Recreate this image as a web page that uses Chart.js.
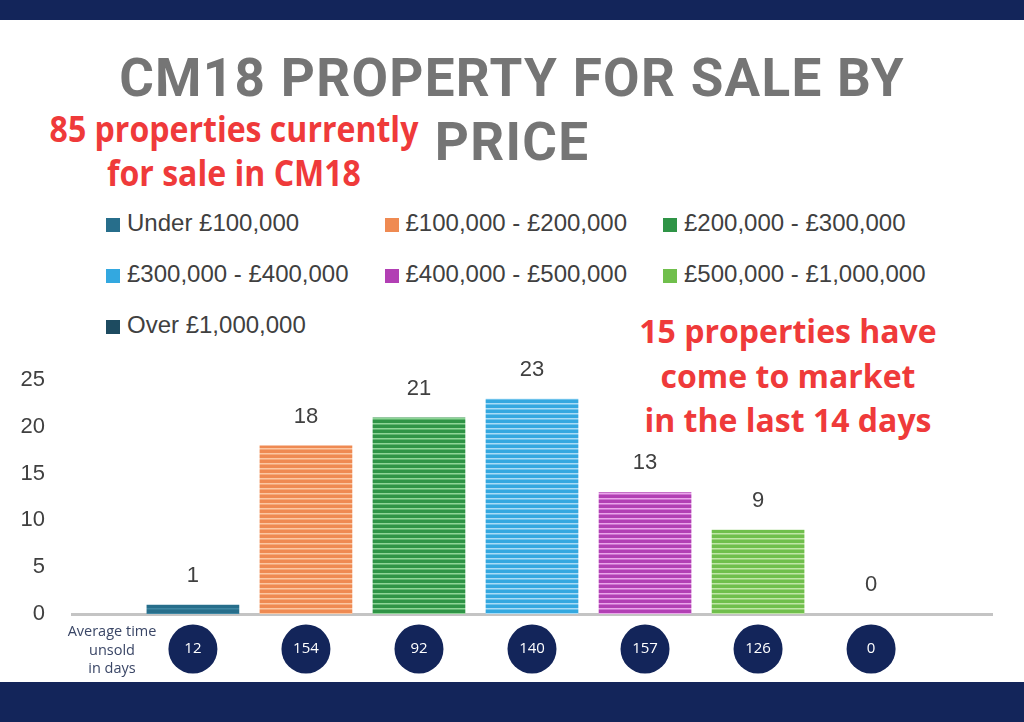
<!DOCTYPE html>
<html>
<head>
<meta charset="utf-8">
<script src="https://cdn.jsdelivr.net/npm/chart.js@4"></script>
<style>
  html, body { margin: 0; padding: 0; background: #fff; }
  #page { position: relative; width: 1024px; height: 722px; overflow: hidden; background: #fff; }
  .navy { position: absolute; left: 0; width: 1024px; background: #13255a; }
  #title { position: absolute; left: 0; top: 46px; width: 1024px; text-align: center;
    font-family: Roboto, sans-serif; font-weight: 700; font-size: 53px; line-height: 64px;
    letter-spacing: 1.3px; color: #757575; }
  .note { position: absolute; color: #ef3a3a; font-family: "Open Sans", sans-serif; font-weight: 700;
    text-align: center; white-space: nowrap; }
  #noteLeft { left: 14px; top: 107px; width: 440px; font-size: 36px; line-height: 44px; transform: scaleX(0.89); }
  #noteRight { left: 588px; top: 309px; width: 400px; font-size: 32px; line-height: 44.5px; }
  #legend { position: absolute; left: 106px; top: 208px; }
  .item { position: absolute; white-space: nowrap; font-family: "Liberation Sans", Arial, sans-serif;
    font-size: 24px; color: #404040; height: 30px; line-height: 30px; }
  .item span.box { display: inline-block; width: 14px; height: 14px; margin-right: 7px; vertical-align: -1px; }
  #chartBox { position: absolute; left: 0; top: 340px; width: 1024px; height: 342px; }
</style>
</head>
<body>
<div id="page">
  <div class="navy" style="top:0;height:20px"></div>
  <div id="title">CM18 PROPERTY FOR SALE BY<br>PRICE</div>
  <div class="note" id="noteLeft">85 properties currently<br>for sale in CM18</div>
  <div id="legend"></div>
  <div class="note" id="noteRight">15 properties have<br>come to market<br>in the last 14 days</div>
  <div id="chartBox"><canvas id="myChart"></canvas></div>
  <div class="navy" style="top:682px;height:40px"></div>
</div>
<script>
const bands = ["Under £100,000", "£100,000 - £200,000", "£200,000 - £300,000", "£300,000 - £400,000",
  "£400,000 - £500,000", "£500,000 - £1,000,000", "Over £1,000,000"];
const counts = [1, 18, 21, 23, 13, 9, 0];
const daysUnsold = [12, 154, 92, 140, 157, 126, 0];
const yTicks = [0, 5, 10, 15, 20, 25];

const baseColors = ["#276e8b", "#ef8a52", "#2f9446", "#33a8e0", "#b23fb4", "#70bf4c", "#1d4b60"];
const stripeColors = ["#3f86a2", "#fcc7a2", "#8fd597", "#a8dcf6", "#eaa6eb", "#c0e6a6", "#35657a"];

function stripes(base, light) {
  const c = document.createElement("canvas");
  c.width = 8; c.height = 5;
  const g = c.getContext("2d");
  g.fillStyle = base; g.fillRect(0, 0, 8, 5);
  g.fillStyle = light; g.fillRect(0, 3, 8, 1.5);
  return g.createPattern(c, "repeat");
}

// value labels above bars + the "days unsold" circles under the axis
const extras = {
  id: "extras",
  afterDatasetsDraw(chart) {
    const ctx = chart.ctx;
    const bottom = chart.chartArea.bottom;
    ctx.save();
    chart.data.datasets.forEach(function(ds, i) {
      const bar = chart.getDatasetMeta(i).data[0];
      ctx.fillStyle = "#404040";
      ctx.font = "22px 'Liberation Sans', Arial, sans-serif";
      ctx.textAlign = "center";
      ctx.textBaseline = "middle";
      ctx.fillText(String(ds.data[0]), bar.x, bar.y - 29);

      ctx.beginPath();
      ctx.arc(bar.x, bottom + 35, 24.5, 0, Math.PI * 2);
      ctx.fillStyle = "#13255a";
      ctx.fill();
      ctx.fillStyle = "#ffffff";
      ctx.font = "15px 'Open Sans', sans-serif";
      ctx.fillText(String(daysUnsold[i]), bar.x, bottom + 35);
    });
    ctx.fillStyle = "#3a4666";
    ctx.font = "14.5px 'Open Sans', sans-serif";
    ctx.textAlign = "center";
    ["Average time", "unsold", "in days"].forEach(function(t, k) {
      ctx.fillText(t, 112, bottom + 18 + k * 18.5);
    });
    ctx.restore();
  }
};

const datasets = bands.map(function(name, i) {
  return {
    label: name,
    data: [counts[i]],
    backgroundColor: stripes(baseColors[i], stripeColors[i]),
    borderWidth: 0
  };
});

const chart = new Chart(document.getElementById("myChart"), {
  type: "bar",
  data: { labels: ["CM18"], datasets: datasets },
  options: {
    responsive: true,
    maintainAspectRatio: false,
    animation: false,
    categoryPercentage: 0.86,
    barPercentage: 0.82,
    layout: { padding: { top: 40, right: 32, bottom: 60, left: 0 } },
    plugins: { legend: { display: false }, tooltip: { enabled: false } },
    scales: {
      x: {
        grid: { display: false },
        border: { display: true, color: "#c4c4c4", width: 3 },
        ticks: { display: false }
      },
      y: {
        min: 0,
        max: 25,
        afterBuildTicks(scale) { scale.ticks = yTicks.map(v => ({ value: v })); },
        afterFit(scale) { scale.width = 72; },
        grid: { display: false },
        border: { display: false },
        ticks: {
          padding: 19,
          color: "#404040",
          font: { family: "'Liberation Sans', Arial, sans-serif", size: 22 }
        }
      }
    }
  },
  plugins: [extras]
});

// legend in three columns, built from the chart's datasets
const legend = document.getElementById("legend");
chart.data.datasets.forEach(function(ds, i) {
  const item = document.createElement("div");
  item.className = "item";
  item.style.left = (i % 3) * 278.5 + "px";
  item.style.top = Math.floor(i / 3) * 51 + "px";
  item.innerHTML = '<span class="box" style="background:' + baseColors[i] + '"></span>' + ds.label;
  legend.appendChild(item);
});
</script>
</body>
</html>
